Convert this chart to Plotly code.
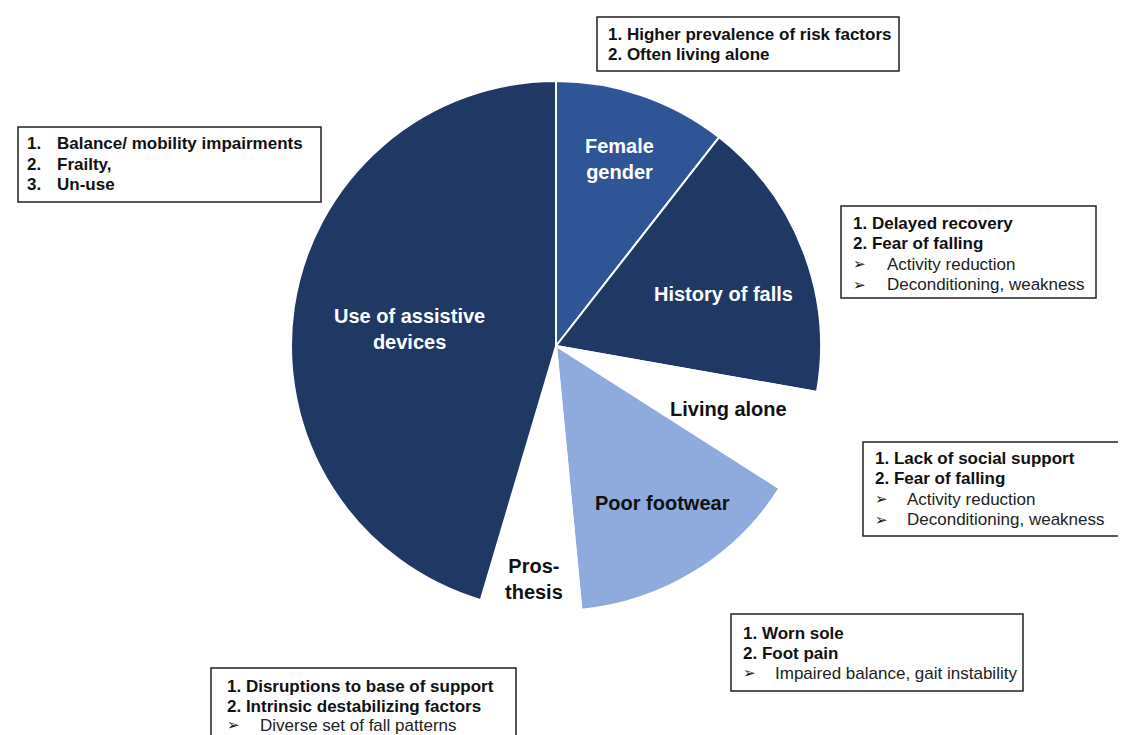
import plotly.graph_objects as go

# Pie data (share of the circle)
slice_labels = ["Female gender", "History of falls", "Living alone",
                "Poor footwear", "Prosthesis", "Use of assistive devices"]
slice_values = [38, 62, 22.5, 52, 22, 163.5]
slice_colors = ["#2F5597", "#1F3864", "#FFFFFF", "#8FAADC", "#FFFFFF", "#1F3864"]

# Text shown on the slices
slice_text = ["Female<br>gender", "History of falls", "Living alone",
              "Poor footwear", "Pros-<br>thesis", "Use of assistive<br>devices"]
slice_text_colors = ["white", "white", "#111111", "#111111", "#111111", "white"]

# Notes in the boxes: (marker, text, bold)
note_female = [("", "1. Higher prevalence of risk factors", True),
               ("", "2. Often living alone", True)]
note_devices = [("1.", "Balance/ mobility impairments", True),
                ("2.", "Frailty,", True),
                ("3.", "Un-use", True)]
note_history = [("", "1. Delayed recovery", True),
                ("", "2. Fear of falling", True),
                ("➢", "Activity reduction", False),
                ("➢", "Deconditioning, weakness", False)]
note_alone = [("", "1. Lack of social support", True),
              ("", "2. Fear of falling", True),
              ("➢", "Activity reduction", False),
              ("➢", "Deconditioning, weakness", False)]
note_footwear = [("", "1. Worn sole", True),
                 ("", "2. Foot pain", True),
                 ("➢", "Impaired balance, gait instability", False)]
note_prosthesis = [("", "1. Disruptions to base of support", True),
                   ("", "2. Intrinsic destabilizing factors", True),
                   ("➢", "Diverse set of fall patterns", False)]

W, H = 1126, 735
FONT = "Arial, Liberation Sans, sans-serif"


def px(x):
    return x / W


def py(y):
    return 1 - y / H


fig = go.Figure()

# pie centre (548, 338) px, radius 265 px
cx, cy, r = 548, 338, 265
fig.add_trace(go.Pie(
    labels=slice_labels, values=slice_values, sort=False,
    direction="clockwise", rotation=0,
    marker=dict(colors=slice_colors, line=dict(color="white", width=2)),
    textinfo="none", hoverinfo="skip", showlegend=False,
    domain=dict(x=[px(cx - r), px(cx + r)], y=[py(cy + r), py(cy - r)]),
))

annotations = []
shapes = []

# slice labels (pixel centres)
label_pos = [(611, 151), (716, 286), (720, 401), (654, 495), (526, 571), (401, 321)]
for txt, col, (x, y) in zip(slice_text, slice_text_colors, label_pos):
    annotations.append(dict(
        x=px(x), y=py(y), xref="paper", yref="paper", text="<b>" + txt + "</b>",
        showarrow=False, xanchor="center", yanchor="middle",
        font=dict(family=FONT, size=20, color=col)))


def add_note(lines, box, tx, tab, ys):
    x0, y0, x1, y1 = box
    shapes.append(dict(type="rect", xref="paper", yref="paper",
                       x0=px(x0), x1=px(x1), y0=py(y1), y1=py(y0),
                       line=dict(color="#222222", width=1.5),
                       fillcolor="white", layer="above"))
    for (mark, txt, bold), y in zip(lines, ys):
        if mark:
            annotations.append(dict(
                x=px(tx), y=py(y), xref="paper", yref="paper",
                text=("<b>" + mark + "</b>") if bold else mark,
                showarrow=False, xanchor="left", yanchor="middle",
                font=dict(family=FONT if bold else "DejaVu Sans", size=17 if bold else 15,
                          color="#111111")))
            x_txt = tab
        else:
            x_txt = tx
        annotations.append(dict(
            x=px(x_txt), y=py(y), xref="paper", yref="paper",
            text=("<b>" + txt + "</b>") if bold else txt,
            showarrow=False, xanchor="left", yanchor="middle",
            font=dict(family=FONT, size=17, color="#111111" if bold else "#222222")))


add_note(note_female, (589, 9, 891, 63), 598, 598, [26, 46])
add_note(note_devices, (10, 119, 313, 194), 17, 47, [135, 156, 176])
add_note(note_history, (833, 198, 1088, 290), 843, 877, [215, 235, 256, 277])
add_note(note_alone, (855, 434, 1124, 528), 865, 897, [450, 470, 491, 512])
add_note(note_footwear, (723, 606, 1015, 683), 733, 765, [625, 645, 665])
add_note(note_prosthesis, (203, 660, 508, 738), 217, 250, [678, 698, 717])

fig.update_layout(
    width=W, height=H, margin=dict(l=0, r=0, t=0, b=0),
    paper_bgcolor="white", plot_bgcolor="white",
    showlegend=False, annotations=annotations, shapes=shapes,
)

fig.write_html("out.html")
